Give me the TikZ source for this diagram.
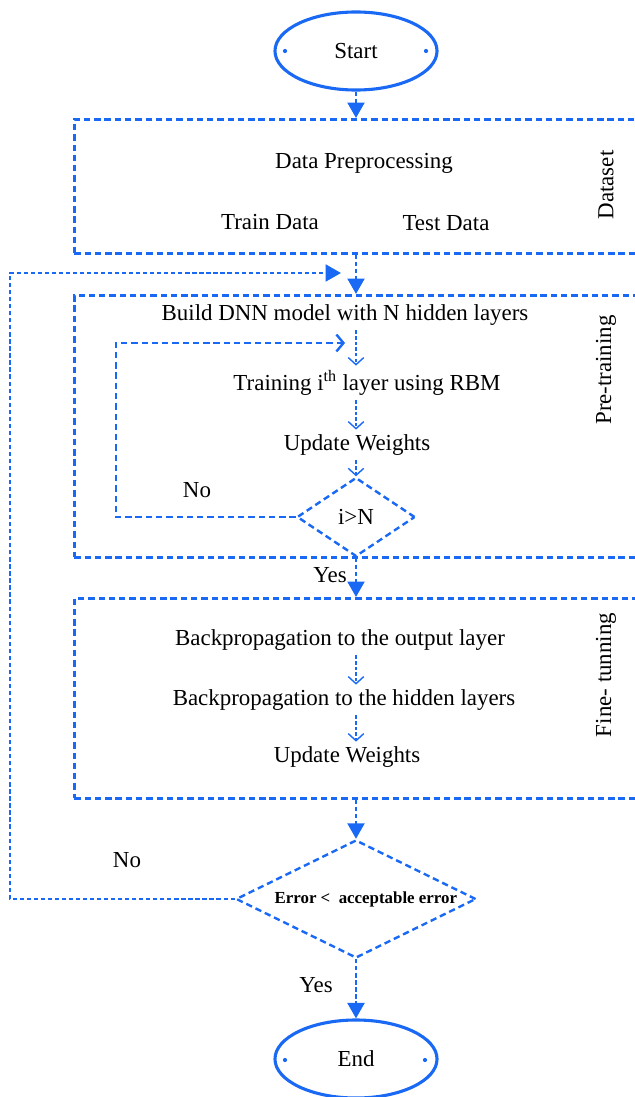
\documentclass[tikz,border=0pt]{standalone}
\usepackage{fontspec}
\setmainfont{Liberation Serif}
\usetikzlibrary{arrows.meta,shapes.geometric}
\definecolor{flowblue}{RGB}{25,105,245}

\begin{document}
\begin{tikzpicture}[
    x=0.025cm, y=-0.025cm,
    font=\fontsize{16.3}{18}\selectfont,
    term/.style={ellipse, draw=flowblue, line width=2.2pt, minimum width=4.05cm, minimum height=1.95cm},
    phase/.style={rectangle, draw=flowblue, line width=2pt, dash pattern=on 4.5pt off 2.8pt, anchor=north west, minimum width=15.2cm},
    decision/.style={diamond, draw=flowblue, line width=1.7pt, dash pattern=on 4.5pt off 2.8pt, inner sep=0pt, aspect=2},
    main/.style={flowblue, line width=1.8pt, dash pattern=on 3pt off 2pt, -{Triangle[length=11pt,width=12pt]}},
    loopline/.style={flowblue, line width=1.7pt, dash pattern=on 4.5pt off 2.8pt, -{Straight Barb[length=5pt,width=12pt]}},
    sub/.style={flowblue, line width=1pt, dash pattern=on 2.5pt off 1.5pt, -{Straight Barb[length=5pt,width=11pt]}},
    side/.style={rotate=90}
]
\clip (0,0) rectangle (635,1097);

% Terminals
\node[term] (start) at (356,51) {Start};
\fill[flowblue] (285,51) circle (1.5pt) (426,51) circle (1.5pt);
\node[term] (end) at (356,1059) {End};
\fill[flowblue] (285,1060) circle (1.5pt) (425,1060) circle (1.5pt);

% Phase boxes
\node[phase, minimum height=3.35cm] (dataset) at (73,118) {};
\node[phase, minimum height=6.55cm] (pretrain) at (73,294) {};
\node[phase, minimum height=5cm] (finetune) at (73,597) {};

% Dataset
\node (prep) at (364,163) {Data Preprocessing};
\node (train) at (270,222) {Train Data};
\node (test) at (446,223) {Test Data};
\node[side] (lbldata) at (606,185) {Dataset};

% Pre-training
\node (build) at (345,315) {Build DNN model with N hidden layers};
\node (rbm) at (367,383) {Training i\textsuperscript{th} layer using RBM};
\node (upd1) at (357,445) {Update Weights};
\node[decision, minimum width=2.95cm, minimum height=1.975cm] (cmp) at (356,517) {i>N};
\node (no1) at (197,490) {No};
\node[side] (lblpre) at (606,370) {Pre-training};
\coordinate (ret2) at (345,343);

% Fine-tuning
\node (yes1) at (330,575) {Yes};
\node (bp1) at (340,640) {Backpropagation to the output layer};
\node (bp2) at (344,700) {Backpropagation to the hidden layers};
\node (upd2) at (347,757) {Update Weights};
\node[side] (lblfine) at (606,675) {Fine- tunning};

% Error check
\node[decision, minimum width=6cm, minimum height=2.95cm] (err) at (356,899) {\hspace*{14pt}\bfseries\fontsize{12}{14}\selectfont Error <\ \ acceptable error};
\node (no2) at (127,860) {No};
\node (yes2) at (316,985) {Yes};
\coordinate (ret) at (341,273);

% Main flow
\draw[main] (start.south) -- (start.south |- dataset.north);
\draw[main] (dataset.south -| start) -- (pretrain.north -| start);
\draw[main] (cmp.south) -- (cmp.south |- finetune.north);
\draw[main] (finetune.south -| err) -- (err.north);
\draw[main] (err.south) -- (end.north);
\draw[main] (err.west) -- ++(-225,0) |- (ret);

% Inner steps
\draw[sub] (build.south -| cmp) -- (rbm.north -| cmp);
\draw[sub] (rbm.south -| cmp) -- (upd1.north -| cmp);
\draw[sub] (upd1.south -| cmp) -- (cmp.north);
\draw[loopline] (cmp.west) -- ++(-180,0) |- (ret2);
\draw[sub] (bp1.south -| cmp) -- (bp2.north -| cmp);
\draw[sub] (bp2.south -| cmp) -- (upd2.north -| cmp);

\end{tikzpicture}
\end{document}
